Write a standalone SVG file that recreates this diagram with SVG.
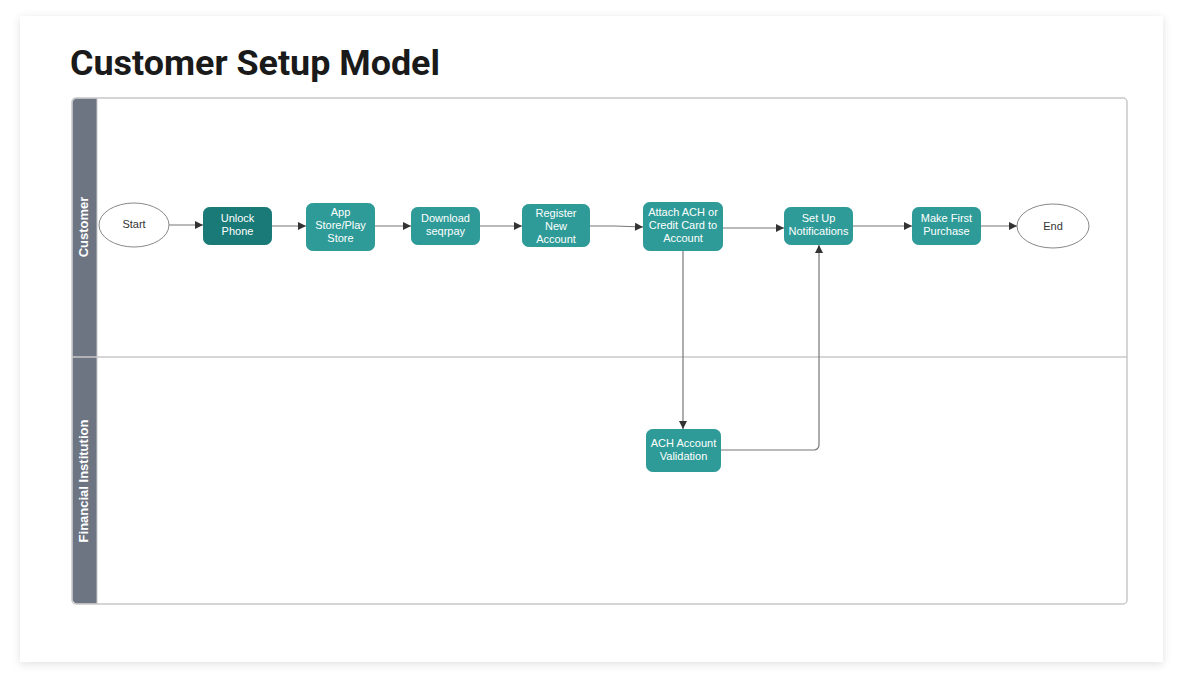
<svg xmlns="http://www.w3.org/2000/svg" width="1183" height="687" viewBox="0 0 1183 687">
<defs>
<filter id="shadow" x="-5%" y="-5%" width="110%" height="110%">
<feDropShadow dx="0" dy="2" stdDeviation="4" flood-color="#000" flood-opacity="0.12"/>
</filter>
<marker id="arr" viewBox="0 0 10 10" refX="10" refY="5" markerWidth="10" markerHeight="8" markerUnits="userSpaceOnUse" orient="auto">
<path d="M0,0 L10,5 L0,10 z" fill="#333"/>
</marker>
<style>
.title{font-family:Roboto,"Liberation Sans",sans-serif;font-weight:700;font-size:35px;fill:#1a1a1a}
.lane{font-family:"Liberation Sans",Arial,sans-serif;font-weight:700;font-size:13px;fill:#fff}
.box{fill:#2e9b98;stroke:#2e9b98}
.dark{fill:#1a7a78;stroke:#1a7a78}
.t{font-family:"Liberation Sans",Arial,sans-serif;font-size:11px;fill:#fff;text-anchor:middle}
.et{font-family:"Liberation Sans",Arial,sans-serif;font-size:11px;fill:#333;text-anchor:middle}
.ell{fill:#fff;stroke:#888;stroke-width:1}
.c{fill:none;stroke:#777;stroke-width:1.2;marker-end:url(#arr)}
</style>
</defs>
<rect width="1183" height="687" fill="#fff"/>
<rect x="20" y="16" width="1143" height="646" fill="#fff" filter="url(#shadow)"/>
<text class="title" x="70" y="75" textLength="370" lengthAdjust="spacingAndGlyphs">Customer Setup Model</text>

<g id="pool">
<rect x="72" y="98" width="1055" height="506" rx="4" fill="#fff" stroke="#c8c8c8" stroke-width="1.5"/>
<path d="M97,98.75 H76 a4,4 0 0 0 -3.25,4 V599 a4,4 0 0 0 4,4.25 H97 z" fill="#6d7583"/>
<line x1="72" y1="357" x2="1127" y2="357" stroke="#c8c8c8" stroke-width="1.5"/>
<line x1="97" y1="98" x2="97" y2="604" stroke="#c8c8c8" stroke-width="1"/>
<text class="lane" transform="translate(88,227) rotate(-90)" text-anchor="middle">Customer</text>
<text class="lane" transform="translate(88,481) rotate(-90)" text-anchor="middle">Financial Institution</text>
</g>

<g id="connectors">
<line class="c" x1="169" y1="225" x2="203" y2="225"/>
<line class="c" x1="272" y1="226" x2="306" y2="226"/>
<line class="c" x1="375" y1="226" x2="411" y2="226"/>
<line class="c" x1="480" y1="226" x2="522" y2="226"/>
<path class="c" d="M590,226 L615,226 L643,227"/>
<line class="c" x1="723" y1="228" x2="784" y2="228"/>
<line class="c" x1="853" y1="226" x2="912" y2="226"/>
<line class="c" x1="981" y1="226" x2="1017" y2="226"/>
<line class="c" x1="683" y1="251" x2="683" y2="429"/>
<path class="c" d="M721,450 H814 a5,5 0 0 0 5,-5 V245"/>
</g>

<g id="start"><ellipse class="ell" cx="134" cy="225" rx="35" ry="22"/><text class="et" x="134" y="228">Start</text></g>
<g id="unlock"><rect class="dark" x="203.5" y="207.5" width="68" height="37" rx="6"/><text class="t" x="237.5" y="222">Unlock</text><text class="t" x="237.5" y="235">Phone</text></g>
<g id="appstore"><rect class="box" x="306.5" y="203.5" width="68" height="47" rx="6"/><text class="t" x="340.5" y="216">App</text><text class="t" x="340.5" y="229">Store/Play</text><text class="t" x="340.5" y="242">Store</text></g>
<g id="download"><rect class="box" x="411.5" y="207.5" width="68" height="37" rx="6"/><text class="t" x="445.5" y="222">Download</text><text class="t" x="445.5" y="235">seqrpay</text></g>
<g id="register"><rect class="box" x="522.5" y="204.5" width="67" height="42" rx="6"/><text class="t" x="556" y="217">Register</text><text class="t" x="556" y="230">New</text><text class="t" x="556" y="243">Account</text></g>
<g id="attach"><rect class="box" x="643.5" y="202.5" width="79" height="48" rx="6"/><text class="t" x="683" y="216">Attach ACH or</text><text class="t" x="683" y="229">Credit Card to</text><text class="t" x="683" y="242">Account</text></g>
<g id="setup"><rect class="box" x="784.5" y="207.5" width="68" height="37" rx="6"/><text class="t" x="818.5" y="222">Set Up</text><text class="t" x="818.5" y="235">Notifications</text></g>
<g id="purchase"><rect class="box" x="912.5" y="207.5" width="68" height="37" rx="6"/><text class="t" x="946.5" y="222">Make First</text><text class="t" x="946.5" y="235">Purchase</text></g>
<g id="end"><ellipse class="ell" cx="1053" cy="226" rx="36" ry="22"/><text class="et" x="1053" y="230">End</text></g>
<g id="validation"><rect class="box" x="646.5" y="429.5" width="74" height="42" rx="6"/><text class="t" x="683.5" y="447">ACH Account</text><text class="t" x="683.5" y="460">Validation</text></g>
</svg>
